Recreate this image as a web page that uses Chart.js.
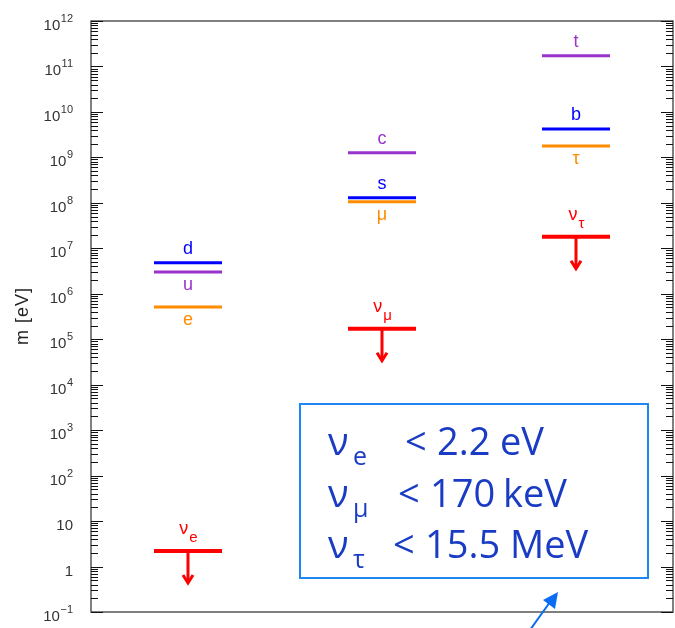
<!DOCTYPE html>
<html>
<head>
<meta charset="utf-8">
<script src="https://cdn.jsdelivr.net/npm/chart.js@4.4.0/dist/chart.umd.min.js"></script>
<style>
  html, body { margin: 0; padding: 0; background: #fff; }
  canvas { display: block; }
</style>
</head>
<body>
<canvas id="grafico" width="675" height="628"></canvas>
<script>
// Gerações (colunas do gráfico)
const geracoes = ["I", "II", "III"];

// Massas em eV, uma por geração
const quarksUp = [3.0e6, 1.27e9, 1.73e11];
const quarksDown = [4.8e6, 1.3e8, 4.2e9];
const leptons = [5.11e5, 1.06e8, 1.78e9];
const neutrinos = [2.2, 1.7e5, 1.8e7]; // limites superiores (setas)

const nomesUp = ["u", "c", "t"];
const nomesDown = ["d", "s", "b"];
const nomesLeptons = ["e", "μ", "τ"];
const subNeutrinos = ["e", "μ", "τ"];

// Eixo y: 10^-1 ... 10^12
const ticksY = [1e-1, 1, 10, 1e2, 1e3, 1e4, 1e5, 1e6, 1e7, 1e8, 1e9, 1e10, 1e11, 1e12];
const ticksBase = ["10", "1", "10", "10", "10", "10", "10", "10", "10", "10", "10", "10", "10", "10"];
const ticksExp = ["−1", "", "", "2", "3", "4", "5", "6", "7", "8", "9", "10", "11", "12"];

// Caixa com os limites dos neutrinos
const limiteValor = ["2.2", "170", "15.5"];
const limiteUnidade = ["eV", "keV", "MeV"];

const COR_UP = "#9933cc";
const COR_DOWN = "#0000ff";
const COR_LEP = "#ff8c00";
const COR_NU = "#ff0000";

function dataset(label, data, cor, largura, nomes, abaixo) {
  return {
    label: label,
    data: data,
    showLine: false,
    pointStyle: "line",
    pointRadius: 34,
    pointHoverRadius: 34,
    pointBorderColor: cor,
    pointBackgroundColor: cor,
    pointBorderWidth: largura,
    pointHoverBorderWidth: largura,
    nomes: nomes,
    abaixo: abaixo,
  };
}

// Desenha eixos, rótulos, setas e a caixa de texto
const extras = {
  id: "extras",
  afterDatasetsDraw(chart) {
    const ctx = chart.ctx;
    const y = chart.scales.y;
    const a = chart.chartArea;
    ctx.save();

    // rótulos das partículas
    chart.data.datasets.forEach((ds, i) => {
      const meta = chart.getDatasetMeta(i);
      meta.data.forEach((pt, j) => {
        ctx.fillStyle = ds.pointBorderColor;
        if (ds.label === "nu") {
          ctx.font = "18px 'Liberation Sans', Arial, sans-serif";
          const wNu = ctx.measureText("ν").width;
          ctx.font = "15px 'Liberation Sans', Arial, sans-serif";
          const wSub = ctx.measureText(subNeutrinos[j]).width;
          const x0 = pt.x - (wNu + wSub) / 2;
          ctx.textAlign = "left";
          ctx.textBaseline = "alphabetic";
          ctx.font = "18px 'Liberation Sans', Arial, sans-serif";
          ctx.fillText("ν", x0, pt.y - 17);
          ctx.font = "15px 'Liberation Sans', Arial, sans-serif";
          ctx.fillText(subNeutrinos[j], x0 + wNu + 1, pt.y - 9);

          // seta para baixo (limite superior)
          ctx.strokeStyle = COR_NU;
          ctx.lineWidth = 3;
          ctx.beginPath();
          ctx.moveTo(pt.x, pt.y);
          ctx.lineTo(pt.x, pt.y + 31);
          ctx.stroke();
          ctx.beginPath();
          ctx.moveTo(pt.x - 5, pt.y + 24);
          ctx.lineTo(pt.x, pt.y + 32);
          ctx.lineTo(pt.x + 5, pt.y + 24);
          ctx.stroke();
        } else {
          ctx.font = "18px 'Liberation Sans', Arial, sans-serif";
          ctx.textAlign = "center";
          ctx.textBaseline = "alphabetic";
          const dy = ds.abaixo[j] ? 18 : -9;
          ctx.fillText(ds.nomes[j], pt.x, pt.y + dy);
        }
      });
    });

    // moldura
    ctx.strokeStyle = "#555";
    ctx.lineWidth = 1.5;
    ctx.strokeRect(a.left, a.top, a.right - a.left, a.bottom - a.top);

    // marcas do eixo (esquerda e direita, para dentro)
    ctx.strokeStyle = "#111";
    ctx.lineWidth = 1;
    for (let e = -1; e <= 12; e++) {
      for (let k = 1; k <= 9; k++) {
        if (e === 12 && k > 1) break;
        const py = Math.round(y.getPixelForValue(k * Math.pow(10, e))) + 0.5;
        const len = k === 1 ? 12 : 7;
        ctx.beginPath();
        ctx.moveTo(a.left, py);
        ctx.lineTo(a.left + len, py);
        ctx.moveTo(a.right, py);
        ctx.lineTo(a.right - len, py);
        ctx.stroke();
      }
    }

    // rótulos do eixo y
    ctx.fillStyle = "#333";
    ctx.textBaseline = "alphabetic";
    ticksY.forEach((v, i) => {
      const py = y.getPixelForValue(v);
      const xr = 73;
      ctx.font = "11px 'Liberation Sans', Arial, sans-serif";
      const wExp = ctx.measureText(ticksExp[i]).width;
      ctx.textAlign = "right";
      if (ticksExp[i]) {
        ctx.fillText(ticksExp[i], xr, py + 1);
      }
      ctx.font = "15px 'Liberation Sans', Arial, sans-serif";
      ctx.fillText(ticksBase[i], xr - wExp - (ticksExp[i] ? 0.5 : 0), py + 9);
    });

    // título do eixo y
    ctx.save();
    ctx.translate(23, 316);
    ctx.rotate(-Math.PI / 2);
    ctx.textAlign = "center";
    ctx.textBaseline = "middle";
    ctx.fillStyle = "#222";
    ctx.font = "18px 'Liberation Sans', Arial, sans-serif";
    ctx.letterSpacing = "1px";
    ctx.fillText("m [eV]", 0, 0);
    ctx.restore();

    // caixa com limites
    ctx.strokeStyle = "#1e88f0";
    ctx.lineWidth = 2;
    ctx.strokeRect(300, 404, 348, 174);
    const base = [455, 506.5, 558];
    const xMenor = [405, 398, 393];
    const xValor = [437, 430, 425];
    const xUnid = [500, 503, 510];
    ctx.fillStyle = "#1a3cc4";
    ctx.textAlign = "left";
    for (let i = 0; i < 3; i++) {
      ctx.font = "38px 'Open Sans', sans-serif";
      ctx.fillText("ν", 328, base[i]);
      ctx.fillText("<", xMenor[i], base[i]);
      ctx.fillText(limiteValor[i], xValor[i], base[i]);
      ctx.fillText(limiteUnidade[i], xUnid[i], base[i]);
      ctx.font = "25px 'Open Sans', sans-serif";
      ctx.fillText(subNeutrinos[i], 353, base[i] + 10);
    }

    // seta azul apontando para a caixa
    ctx.strokeStyle = "#0a6cf5";
    ctx.fillStyle = "#0a6cf5";
    ctx.lineWidth = 2;
    ctx.beginPath();
    ctx.moveTo(530, 630);
    ctx.lineTo(550, 602);
    ctx.stroke();
    ctx.beginPath();
    ctx.moveTo(558, 592);
    ctx.lineTo(543, 600);
    ctx.lineTo(555, 609);
    ctx.closePath();
    ctx.fill();

    ctx.restore();
  },
};

const grafico = new Chart(document.getElementById("grafico").getContext("2d"), {
  type: "line",
  data: {
    labels: geracoes,
    datasets: [
      dataset("up", quarksUp, COR_UP, 3, nomesUp, [true, false, false]),
      dataset("lep", leptons, COR_LEP, 3, nomesLeptons, [true, true, true]),
      dataset("down", quarksDown, COR_DOWN, 3, nomesDown, [false, false, false]),
      dataset("nu", neutrinos, COR_NU, 4, subNeutrinos, [false, false, false]),
    ],
  },
  options: {
    responsive: false,
    devicePixelRatio: 1,
    animation: false,
    layout: { autoPadding: false, padding: { left: 91, right: 2, top: 21, bottom: 16 } },
    plugins: { legend: { display: false }, tooltip: { enabled: false } },
    scales: {
      x: { type: "category", offset: true, display: false },
      y: { type: "logarithmic", min: 0.1, max: 1e12, display: false },
    },
  },
  plugins: [extras],
});
</script>
</body>
</html>
